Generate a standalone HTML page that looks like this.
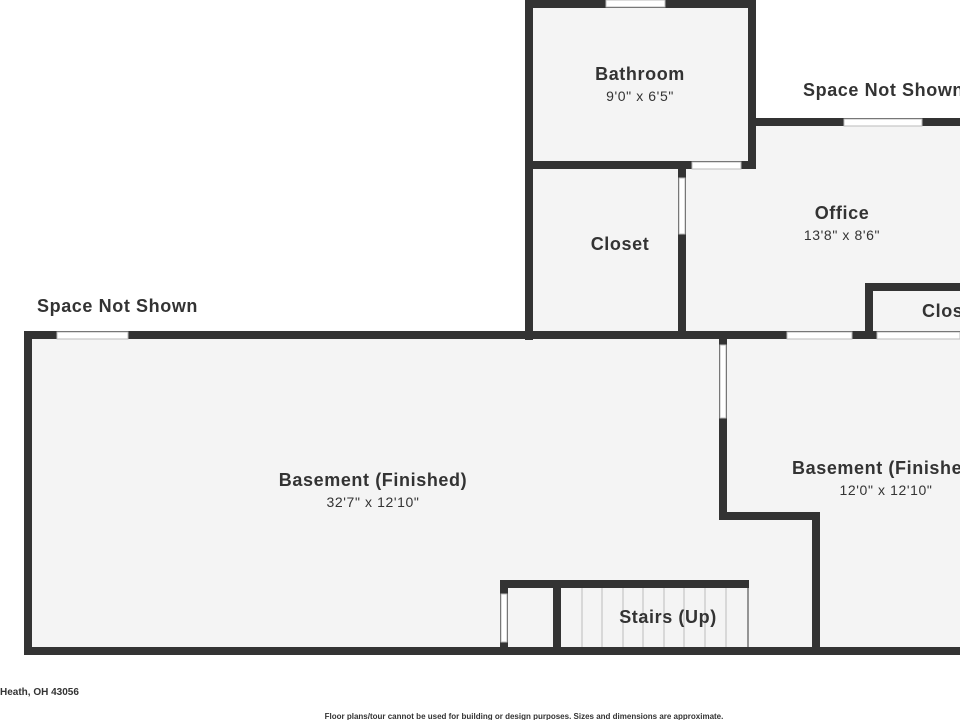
<!DOCTYPE html>
<html><head><style>
html,body{margin:0;padding:0;background:#fff;}
svg{display:block;}
text{font-family:"Liberation Sans",sans-serif;fill:#333;}
</style></head><body>
<svg width="960" height="720" viewBox="0 0 960 720" xmlns="http://www.w3.org/2000/svg">
<g fill="#f4f4f4">
<rect x="529" y="4" width="223" height="161"/>
<rect x="529" y="165" width="155" height="170"/>
<rect x="682" y="122" width="278" height="213"/>
<rect x="28" y="335" width="932" height="316"/>
</g>
<g fill="#333">
<rect x="525" y="0" width="231" height="8"/>
<rect x="525" y="0" width="8" height="340"/>
<rect x="748" y="0" width="8" height="169"/>
<rect x="525" y="161" width="231" height="8"/>
<rect x="678" y="161" width="8" height="178"/>
<rect x="748" y="118" width="212" height="8"/>
<rect x="865" y="283" width="95" height="8"/>
<rect x="865" y="283" width="8" height="56"/>
<rect x="24" y="331" width="936" height="8"/>
<rect x="24" y="331" width="8" height="324"/>
<rect x="24" y="647" width="936" height="8"/>
<rect x="719" y="331" width="8" height="189"/>
<rect x="719" y="512" width="101" height="8"/>
<rect x="812" y="512" width="8" height="143"/>
<rect x="500" y="580" width="249" height="8"/>
<rect x="500" y="580" width="8" height="75"/>
<rect x="553" y="580" width="8" height="75"/>
</g>
<g fill="#fff" stroke="#bbb" stroke-width="1">
<rect x="606" y="0" width="59" height="7"/>
<rect x="692" y="162" width="49" height="7"/>
<rect x="679" y="178" width="6" height="56"/>
<rect x="844" y="119" width="78" height="7"/>
<rect x="57" y="332" width="71" height="7"/>
<rect x="787" y="332" width="65" height="7"/>
<rect x="877" y="332" width="83" height="7"/>
<rect x="720" y="345" width="6" height="73"/>
<rect x="501" y="594" width="6" height="48"/>
</g>
<g stroke="#bbb" stroke-width="1">
<line x1="582" y1="588" x2="582" y2="647"/><line x1="602" y1="588" x2="602" y2="647"/>
<line x1="623" y1="588" x2="623" y2="647"/><line x1="643" y1="588" x2="643" y2="647"/>
<line x1="664" y1="588" x2="664" y2="647"/><line x1="684" y1="588" x2="684" y2="647"/>
<line x1="705" y1="588" x2="705" y2="647"/><line x1="726" y1="588" x2="726" y2="647"/>
<line x1="748" y1="588" x2="748" y2="647" stroke="#333"/>
</g>
<g font-weight="bold" text-anchor="middle" letter-spacing="0.6">
<text x="640" y="80" font-size="18">Bathroom</text>
<text x="640" y="101" font-size="14" font-weight="normal">9'0" x 6'5"</text>
<text x="620" y="250" font-size="18">Closet</text>
<text x="842" y="219" font-size="18">Office</text>
<text x="842" y="240" font-size="14" font-weight="normal">13'8" x 8'6"</text>
<text x="373" y="486" font-size="18">Basement (Finished)</text>
<text x="373" y="507" font-size="14" font-weight="normal">32'7" x 12'10"</text>
<text x="668" y="623" font-size="18">Stairs (Up)</text>
<text x="886" y="495" font-size="14" font-weight="normal">12'0" x 12'10"</text>
</g>
<g font-weight="bold" font-size="18" letter-spacing="0.6">
<text x="37" y="312">Space Not Shown</text>
<text x="803" y="96">Space Not Shown</text>
<text x="922" y="317">Closet</text>
<text x="792" y="474">Basement (Finished)</text>
</g>
<text x="0" y="695" font-size="10" font-weight="bold">Heath, OH 43056</text>
<text x="524" y="719" font-size="8" font-weight="bold" text-anchor="middle">Floor plans/tour cannot be used for building or design purposes. Sizes and dimensions are approximate.</text>
</svg>
</body></html>
